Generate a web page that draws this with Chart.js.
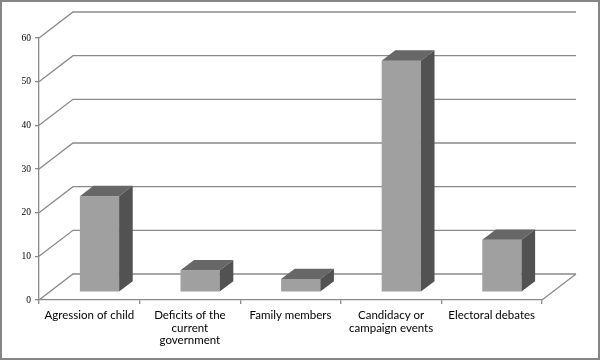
<!DOCTYPE html>
<html>
<head>
<meta charset="utf-8">
<script src="https://cdn.jsdelivr.net/npm/chart.js@4"></script>
<style>
html,body{margin:0;padding:0;background:#fff;}
#wrap{width:600px;height:360px;position:relative;}
</style>
</head>
<body>
<div id="wrap"><canvas id="c" width="600" height="360"></canvas></div>
<script>
const categories = [
  ['Agression of child'],
  ['Deficits of the', 'current', 'government'],
  ['Family members'],
  ['Candidacy or', 'campaign events'],
  ['Electoral debates']
];
const values = [22, 5, 3, 53, 12];
const yTickValues = [0, 10, 20, 30, 40, 50, 60];

const DEPTH_X = 34, DEPTH_Y = -26;
const F1 = 0.3, F2 = 0.7;
const GRID = '#8a8a8a';

const threeD = {
  id: 'threeD',
  beforeDatasetsDraw(chart) {
    const ctx = chart.ctx;
    const ys = chart.scales.y;
    const a = chart.chartArea;
    ctx.save();
    ctx.strokeStyle = GRID;
    ctx.lineWidth = 1.3;
    yTickValues.forEach(v => {
      const y = ys.getPixelForValue(v);
      ctx.beginPath();
      ctx.moveTo(a.left, y);
      ctx.lineTo(a.left + DEPTH_X, y + DEPTH_Y);
      ctx.lineTo(a.right + DEPTH_X, y + DEPTH_Y);
      ctx.stroke();
    });
    const yb = ys.getPixelForValue(0);
    ctx.beginPath();
    ctx.moveTo(a.right, yb);
    ctx.lineTo(a.right + DEPTH_X, yb + DEPTH_Y);
    ctx.stroke();
    ctx.restore();
    ctx.save();
    ctx.translate(DEPTH_X * F1, DEPTH_Y * F1);
  },
  afterDatasetsDraw(chart) {
    const ctx = chart.ctx;
    ctx.restore();
    const meta = chart.getDatasetMeta(0);
    const ox = DEPTH_X * F1, oy = DEPTH_Y * F1;
    const dx = DEPTH_X * (F2 - F1), dy = DEPTH_Y * (F2 - F1);
    ctx.save();
    meta.data.forEach(el => {
      const p = el.getProps(['x', 'y', 'base', 'width'], true);
      const l = p.x - p.width / 2 + ox, r = p.x + p.width / 2 + ox;
      const t = p.y + oy, b = p.base + oy;
      ctx.fillStyle = '#676767';
      ctx.beginPath();
      ctx.moveTo(l, t); ctx.lineTo(l + dx, t + dy); ctx.lineTo(r + dx, t + dy); ctx.lineTo(r, t);
      ctx.closePath(); ctx.fill();
      ctx.fillStyle = '#525252';
      ctx.beginPath();
      ctx.moveTo(r, t); ctx.lineTo(r + dx, t + dy); ctx.lineTo(r + dx, b + dy); ctx.lineTo(r, b);
      ctx.closePath(); ctx.fill();
    });
    ctx.restore();
  },
  afterDraw(chart) {
    const ctx = chart.ctx;
    ctx.save();
    ctx.strokeStyle = '#858585';
    ctx.lineWidth = 2;
    ctx.strokeRect(1, 1, 598, 358);
    ctx.restore();
  }
};

new Chart(document.getElementById('c'), {
  type: 'bar',
  data: {
    labels: categories,
    datasets: [{
      data: values,
      backgroundColor: '#a0a0a0',
      borderWidth: 0,
      barPercentage: 0.39,
      categoryPercentage: 1
    }]
  },
  options: {
    responsive: false,
    animation: false,
    events: [],
    layout: { padding: { top: 38, right: 58, left: 0, bottom: 0 } },
    plugins: { legend: { display: false }, tooltip: { enabled: false } },
    scales: {
      x: {
        afterFit(s) { s.height = 60; },
        grid: { drawOnChartArea: false, drawTicks: true, tickLength: 4, color: GRID, lineWidth: 1.3 },
        border: { display: true, color: GRID, width: 1.3 },
        ticks: {
          color: '#000', padding: 5, maxRotation: 0, autoSkip: false,
          font: { family: 'Lato', size: 11.5, lineHeight: 1.1 }
        }
      },
      y: {
        min: 0, max: 60,
        afterFit(s) { s.width = 39; },
        grid: { drawOnChartArea: false, drawTicks: true, tickLength: 4, color: GRID, lineWidth: 1.3 },
        border: { display: true, color: GRID, width: 1.3 },
        ticks: {
          stepSize: 10, color: '#000', padding: 4,
          font: { family: 'Liberation Serif', size: 9.5 }
        }
      }
    }
  },
  plugins: [threeD]
});
</script>
</body>
</html>
